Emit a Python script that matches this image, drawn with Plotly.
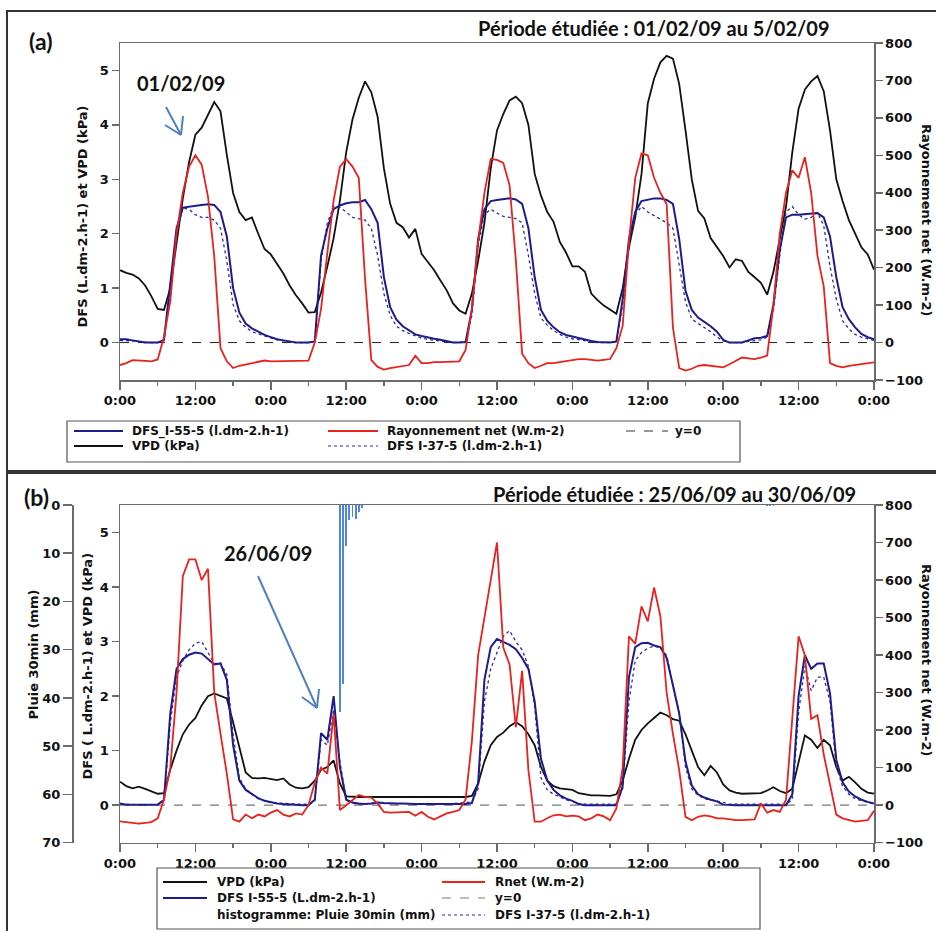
import plotly.graph_objects as go

W, H = 936, 931
def px(x): return x / W
def py(y): return 1 - y / H

# ---------------- DATA ----------------
hours = list(range(0, 121))
tick_hours = [0, 12, 24, 36, 48, 60, 72, 84, 96, 108, 120]
tick_text = ["0:00", "12:00", "0:00", "12:00", "0:00", "12:00", "0:00", "12:00", "0:00", "12:00", "0:00"]
minor_hours = [6, 18, 30, 42, 54, 66, 78, 90, 102, 114]

# Panel (a) 01/02/09 - 05/02/09, hourly
a_vpd = [1.33, 1.28, 1.25, 1.18, 1.05, 0.85, 0.62, 0.6, 1.0, 1.85, 2.65, 3.32,
         3.82, 3.95, 4.2, 4.42, 4.25, 3.45, 2.75, 2.4, 2.25, 2.3, 2.0, 1.72,
         1.62, 1.45, 1.27, 1.05, 0.87, 0.72, 0.55, 0.56, 0.92, 1.4, 1.92, 2.61,
         3.5, 4.1, 4.5, 4.8, 4.6, 4.15, 3.2, 2.55, 2.2, 2.12, 1.93, 2.09,
         1.63, 1.48, 1.33, 1.14, 0.96, 0.72, 0.59, 0.53, 0.9, 1.5, 2.2, 3.2,
         3.9, 4.2, 4.45, 4.52, 4.4, 4.0, 3.1, 2.7, 2.4, 2.22, 1.85, 1.65,
         1.4, 1.4, 1.3, 0.9, 0.78, 0.68, 0.6, 0.53, 1.0, 1.75, 2.3, 3.1,
         4.4, 4.85, 5.15, 5.27, 5.22, 4.75, 3.9, 3.0, 2.42, 2.28, 1.92, 1.75,
         1.59, 1.38, 1.53, 1.5, 1.3, 1.2, 1.1, 0.88, 1.3, 1.9, 2.5, 3.5,
         4.3, 4.65, 4.8, 4.9, 4.62, 3.9, 3.0, 2.6, 2.25, 2.0, 1.75, 1.62,
         1.34]
a_dfs55 = [0.06, 0.06, 0.04, 0.02, 0.0, 0.0, 0.0, 0.05, 1.1, 2.1, 2.48, 2.5,
           2.52, 2.53, 2.54, 2.53, 2.4, 1.95, 1.0, 0.55, 0.35, 0.26, 0.2, 0.14,
           0.1, 0.06, 0.04, 0.02, 0.0, 0.0, 0.0, 0.02, 1.6, 2.1, 2.45, 2.52,
           2.56, 2.58, 2.58, 2.62, 2.45, 2.2, 1.2, 0.65, 0.42, 0.3, 0.22, 0.15,
           0.12, 0.09, 0.07, 0.05, 0.02, 0.0, 0.0, 0.01, 0.6, 1.9, 2.45, 2.6,
           2.62, 2.63, 2.65, 2.63, 2.55, 2.1, 1.2, 0.6, 0.4, 0.28, 0.19, 0.14,
           0.11, 0.09, 0.06, 0.03, 0.01, 0.0, 0.0, 0.02, 0.8, 1.9, 2.4, 2.6,
           2.63, 2.65, 2.65, 2.62, 2.55, 1.9, 0.95, 0.6, 0.46, 0.38, 0.3, 0.2,
           0.05, 0.0, 0.0, 0.0, 0.04, 0.08, 0.09, 0.12, 0.7, 1.7, 2.3, 2.35,
           2.35, 2.36, 2.36, 2.38, 2.3, 1.95, 1.2, 0.65, 0.43, 0.28, 0.16, 0.1,
           0.06]
a_dfs37 = [0.04, 0.04, 0.03, 0.01, 0.0, 0.0, 0.0, 0.03, 0.9, 2.0, 2.47, 2.45,
           2.35, 2.3, 2.3, 2.25, 2.1, 1.5, 0.7, 0.4, 0.28, 0.2, 0.16, 0.12,
           0.08, 0.05, 0.03, 0.01, 0.0, 0.0, 0.0, 0.02, 1.5, 2.2, 2.5, 2.48,
           2.4, 2.3, 2.28, 2.25, 2.1, 1.6, 0.9, 0.5, 0.3, 0.22, 0.17, 0.12,
           0.08, 0.06, 0.04, 0.03, 0.01, 0.0, 0.0, 0.01, 0.5, 1.8, 2.35, 2.45,
           2.38, 2.32, 2.3, 2.28, 2.2, 1.6, 0.9, 0.45, 0.32, 0.22, 0.15, 0.1,
           0.07, 0.05, 0.03, 0.02, 0.0, 0.0, 0.0, 0.01, 0.7, 1.8, 2.35, 2.5,
           2.4, 2.33, 2.27, 2.2, 2.1, 1.4, 0.75, 0.43, 0.35, 0.28, 0.2, 0.1,
           0.03, 0.0, 0.0, 0.0, 0.02, 0.04, 0.05, 0.1, 0.6, 1.6, 2.4, 2.5,
           2.35, 2.27, 2.3, 2.39, 2.15, 1.4, 0.8, 0.4, 0.25, 0.15, 0.1, 0.07,
           0.04]
a_rnet = [-60, -55, -47, -47, -49, -50, -45, 15, 110, 290, 400, 470,
          500, 475, 390, 230, -15, -50, -68, -62, -58, -55, -52, -48,
          -50, -50, -48, -50, -50, -50, -48, 0, 90, 240, 380, 470,
          490, 470, 440, 170, -47, -65, -72, -68, -65, -62, -60, -35,
          -55, -55, -52, -52, -52, -50, -50, -20, 90, 270, 400, 490,
          488, 480, 420, 220, -30, -55, -68, -62, -55, -55, -52, -48,
          -45, -44, -44, -45, -48, -46, -44, -15, 45, 270, 440, 505,
          500, 440, 400, 370, 40, -68, -75, -70, -62, -60, -62, -64,
          -66, -58, -50, -40, -42, -44, -40, -35, 100, 290, 400, 460,
          440, 495, 400, 232, 150, -55, -62, -66, -62, -60, -58, -55,
          -53]

# Panel (b) 25/06/09 - 30/06/09, hourly
b_vpd = [0.43, 0.35, 0.31, 0.34, 0.3, 0.25, 0.21, 0.22, 0.65, 1.0, 1.3, 1.48,
         1.6, 1.83, 2.0, 2.05, 2.0, 1.96, 1.52, 1.05, 0.6, 0.5, 0.49, 0.5,
         0.48, 0.46, 0.49, 0.38, 0.32, 0.31, 0.33, 0.45, 0.65, 0.7, 0.82, 0.4,
         0.16, 0.15, 0.15, 0.15, 0.15, 0.15, 0.15, 0.14, 0.14, 0.14, 0.14, 0.14,
         0.14, 0.14, 0.14, 0.14, 0.14, 0.14, 0.15, 0.15, 0.17, 0.4, 0.8, 1.1,
         1.25, 1.33, 1.45, 1.52, 1.45, 1.3, 1.1, 0.7, 0.45, 0.35, 0.31, 0.3,
         0.28, 0.22, 0.2, 0.18, 0.18, 0.17, 0.17, 0.2, 0.45, 0.85, 1.2, 1.38,
         1.5, 1.6, 1.7, 1.65, 1.58, 1.55, 1.3, 1.0, 0.7, 0.55, 0.72, 0.6,
         0.38, 0.27, 0.23, 0.21, 0.21, 0.21, 0.22, 0.27, 0.33, 0.26, 0.22, 0.3,
         0.8, 1.28, 1.2, 1.05, 1.2, 1.1, 0.7, 0.45, 0.52, 0.42, 0.3, 0.23,
         0.21]
b_dfs55 = [0.03, 0.01, 0.01, 0.01, 0.01, 0.01, 0.01, 0.1, 1.68, 2.5, 2.68, 2.76,
           2.8, 2.78, 2.68, 2.58, 2.6, 2.3, 1.1, 0.45, 0.28, 0.2, 0.13, 0.08,
           0.05, 0.03, 0.02, 0.01, 0.0, 0.0, 0.0, 0.1, 1.32, 1.2, 2.0, 0.7,
           0.1, 0.05, 0.03, 0.02, 0.03, 0.05, 0.04, 0.03, 0.03, 0.03, 0.02, 0.02,
           0.02, 0.02, 0.02, 0.02, 0.02, 0.02, 0.02, 0.02, 0.04, 0.4, 2.3, 2.9,
           3.05, 3.0, 2.94, 2.86, 2.7, 2.5, 1.9, 0.85, 0.45, 0.28, 0.18, 0.12,
           0.08, 0.02, 0.0, 0.0, 0.0, 0.0, 0.0, 0.0, 0.35, 2.35, 2.9, 2.97,
           2.98, 2.93, 2.9, 2.7, 2.2, 1.68, 0.8, 0.36, 0.2, 0.14, 0.1, 0.07,
           0.01, 0.0, 0.0, 0.0, 0.0, 0.0, 0.0, 0.0, 0.0, 0.0, 0.0, 0.2,
           2.0, 2.75, 2.5, 2.6, 2.6, 2.05, 0.83, 0.42, 0.25, 0.16, 0.1, 0.06,
           0.03]
b_dfs37 = [0.02, 0.01, 0.01, 0.01, 0.01, 0.01, 0.01, 0.08, 1.5, 2.35, 2.65, 2.85,
           2.97, 3.0, 2.8, 2.6, 2.6, 2.4, 1.3, 0.5, 0.3, 0.2, 0.12, 0.08,
           0.05, 0.04, 0.03, 0.02, 0.02, 0.02, 0.02, 0.08, 1.2, 1.1, 1.75, 0.8,
           0.1, 0.04, 0.02, 0.02, 0.03, 0.04, 0.03, 0.03, 0.03, 0.02, 0.02, 0.02,
           0.02, 0.02, 0.02, 0.02, 0.02, 0.03, 0.04, 0.05, 0.06, 0.3, 1.9, 2.5,
           2.8, 3.1, 3.2, 3.0, 2.85, 2.55, 1.8, 0.5, 0.28, 0.2, 0.15, 0.1,
           0.07, 0.03, 0.02, 0.02, 0.02, 0.02, 0.02, 0.02, 0.3, 1.9, 2.65, 2.8,
           2.88, 2.92, 2.88, 2.75, 2.2, 1.7, 0.7, 0.3, 0.18, 0.12, 0.1, 0.08,
           0.05, 0.02, 0.02, 0.02, 0.02, 0.02, 0.02, 0.02, 0.02, 0.02, 0.02, 0.1,
           1.7, 2.55, 2.1, 2.35, 2.35, 1.9, 0.7, 0.35, 0.2, 0.12, 0.08, 0.05,
           0.03]
b_rnet = [-43, -45, -47, -49, -47, -45, -35, 15, 100, 300, 610, 655,
          655, 600, 630, 300, 190, 84, -38, -44, -25, -35, -25, -30,
          -20, -13, -25, -30, -22, -25, 0, 60, 100, 84, 244, -13,
          0, 13, 27, 22, 20, 4, -18, -20, -20, -20, -18, -28,
          -18, -31, -38, -30, -22, -18, -13, 15, 170, 400, 505, 600,
          700, 420, 375, 208, 358, 93, -44, -44, -35, -27, -25, -30,
          -28, -30, -40, -35, -25, -30, -40, -9, 100, 450, 430, 530,
          490, 580, 504, 300, 190, 93, -31, -40, -31, -27, -30, -35,
          -35, -38, -40, -40, -40, -38, 5, -20, -13, -18, 15, 230,
          450, 400, 230, 240, 135, 55, -25, -35, -40, -44, -42, -40,
          -15]
rain_hours = [35.0, 35.5, 36.0, 36.5, 37.0, 37.5, 38.0, 38.5, 103.0, 103.5, 104.0]
rain_mm = [43, 37, 8.6, 3.1, 2.4, 2.9, 1.4, 0.6, 0.2, 0.3, 0.2]

zero_x = [0, 120]
zero_y = [0, 0]

# ---------------- STYLE ----------------
C_VPD = "#111111"
C_D55 = "#1c1c8a"
C_D37 = "#2e2e9e"
C_RN = "#e8221c"
C_RAIN = "#4f86e0"
C_ARROW = "#4f81bd"
AX = "#6b6b6b"
TICKF = dict(family="DejaVu Sans", size=13, color="#111111", weight="bold")
LEGF = dict(family="DejaVu Sans", size=12, color="#111111", weight="bold")
TITF = dict(family="Lato", size=20, color="#111111", weight="bold")

fig = go.Figure()

# panel a traces
fig.add_trace(go.Scatter(x=zero_x, y=zero_y, mode="lines", line=dict(color="#222", width=1, dash="dash"),
                         xaxis="x", yaxis="y", showlegend=False, hoverinfo="skip"))
fig.add_trace(go.Scatter(x=hours, y=a_vpd, mode="lines", line=dict(color=C_VPD, width=1.8),
                         xaxis="x", yaxis="y", name="VPD (kPa)", showlegend=False))
fig.add_trace(go.Scatter(x=hours, y=a_dfs37, mode="lines", line=dict(color=C_D37, width=1.3, dash="dot"),
                         xaxis="x", yaxis="y", name="DFS I-37-5", showlegend=False))
fig.add_trace(go.Scatter(x=hours, y=a_dfs55, mode="lines", line=dict(color=C_D55, width=2),
                         xaxis="x", yaxis="y", name="DFS_I-55-5", showlegend=False))
fig.add_trace(go.Scatter(x=hours, y=a_rnet, mode="lines", line=dict(color=C_RN, width=1.8),
                         xaxis="x", yaxis="y2", name="Rayonnement net", showlegend=False))

# panel b traces
fig.add_trace(go.Scatter(x=zero_x, y=zero_y, mode="lines", line=dict(color="#777", width=1.2, dash="dash"),
                         xaxis="x2", yaxis="y3", showlegend=False, hoverinfo="skip"))
fig.add_trace(go.Scatter(x=hours, y=b_vpd, mode="lines", line=dict(color=C_VPD, width=1.8),
                         xaxis="x2", yaxis="y3", name="VPD (kPa)", showlegend=False))
fig.add_trace(go.Scatter(x=hours, y=b_dfs37, mode="lines", line=dict(color=C_D37, width=1.3, dash="dot"),
                         xaxis="x2", yaxis="y3", name="DFS I-37-5", showlegend=False))
fig.add_trace(go.Scatter(x=hours, y=b_dfs55, mode="lines", line=dict(color=C_D55, width=2),
                         xaxis="x2", yaxis="y3", name="DFS I-55-5", showlegend=False))
fig.add_trace(go.Scatter(x=hours, y=b_rnet, mode="lines", line=dict(color=C_RN, width=1.8),
                         xaxis="x2", yaxis="y4", name="Rnet", showlegend=False))
fig.add_trace(go.Bar(x=rain_hours, y=rain_mm, width=0.3, marker=dict(color=C_RAIN, line=dict(width=0)),
                     xaxis="x2", yaxis="y5", name="Pluie", showlegend=False))

# ---------------- AXES ----------------
XD = [px(120), px(874)]
A_DOM = [py(380), py(43)]
B_DOM = [py(842.7), py(505)]
LRANGE = [-100 / 145.3, 800 / 145.3]
RRANGE = [-100, 800]

def xax(anchor):
    return dict(domain=XD, anchor=anchor, range=[0, 120], tickmode="array", tickvals=tick_hours,
                ticktext=tick_text, ticks="outside", ticklen=8, tickwidth=1.5, tickcolor=AX,
                minor=dict(tickmode="array", tickvals=minor_hours, ticks="outside", ticklen=4,
                           tickwidth=1.5, tickcolor=AX),
                showline=True, linecolor=AX, linewidth=1.5, mirror=True, showgrid=False,
                zeroline=False, tickfont=TICKF, automargin=False)

def yleft(dom, anchor):
    return dict(domain=dom, anchor=anchor, range=LRANGE, tickmode="array", tickvals=[0, 1, 2, 3, 4, 5],
                ticks="outside", ticklen=7, tickwidth=1.5, tickcolor=AX, showline=True, linecolor=AX,
                linewidth=1.5, showgrid=False, zeroline=False, tickfont=TICKF, automargin=False)

def yright(over, anchor):
    return dict(overlaying=over, anchor=anchor, side="right", range=RRANGE, tickmode="array",
                tickvals=[-100, 0, 100, 200, 300, 400, 500, 600, 700, 800], ticks="outside", ticklen=7,
                tickwidth=1.5, tickcolor=AX, showline=True, linecolor=AX, linewidth=1.5,
                showgrid=False, zeroline=False, tickfont=TICKF, automargin=False)

fig.update_layout(
    width=W, height=H, margin=dict(l=0, r=0, t=0, b=0, autoexpand=False),
    paper_bgcolor="white", plot_bgcolor="white", showlegend=False, bargap=0,
    xaxis=xax("y"), yaxis=yleft(A_DOM, "x"), yaxis2=yright("y", "x"),
    xaxis2=xax("y3"), yaxis3=yleft(B_DOM, "x2"), yaxis4=yright("y3", "x2"),
    yaxis5=dict(overlaying="y3", anchor="free", position=px(72), side="left", range=[70, 0],
                tickmode="array", tickvals=[0, 10, 20, 30, 40, 50, 60, 70], ticks="outside",
                ticklen=9, tickwidth=1.5, tickcolor=AX, showline=True, linecolor=AX, linewidth=1.5,
                showgrid=False, zeroline=False, tickfont=TICKF, automargin=False),
)

ann = []
shapes = []

def text(x, y, s, font, xanchor="left", yanchor="middle", angle=0):
    ann.append(dict(x=px(x), y=py(y), xref="paper", yref="paper", text=s, showarrow=False,
                    xanchor=xanchor, yanchor=yanchor, font=font, textangle=angle))

def seg(x0, y0, x1, y1, color, width=1.5, dash="solid"):
    shapes.append(dict(type="line", xref="paper", yref="paper", x0=px(x0), y0=py(y0), x1=px(x1), y1=py(y1),
                       line=dict(color=color, width=width, dash=dash)))

def rect(x0, y0, x1, y1, color, width=1.5):
    shapes.append(dict(type="rect", xref="paper", yref="paper", x0=px(x0), y0=py(y0), x1=px(x1), y1=py(y1),
                       line=dict(color=color, width=width), fillcolor="rgba(0,0,0,0)"))

# panel frames
rect(7, 11, 940, 471, "#333333", 2)
rect(7, 473, 940, 940, "#333333", 2)

# titles / labels
text(27, 41, "(a)", dict(family="Lato", size=23, color="#111", weight="bold"))
text(22, 497, "(b)", dict(family="Lato", size=23, color="#111", weight="bold"))
text(476, 28, "Période étudiée : 01/02/09 au 5/02/09", TITF)
text(491, 494, "Période étudiée : 25/06/09 au 30/06/09", TITF)
text(135, 83, "01/02/09", TITF)
text(222, 553, "26/06/09", TITF)

AXT = dict(family="DejaVu Sans", size=13, color="#111", weight="bold")
text(82.5, 217, "DFS (L.dm-2.h-1) et VPD (kPa)", AXT, xanchor="center", angle=-90)
text(927, 220, "Rayonnement net (W.m-2)", AXT, xanchor="center", angle=90)
text(86.5, 666, "DFS ( L.dm-2.h-1) et VPD (kPa)", AXT, xanchor="center", angle=-90)
text(927, 660, "Rayonnement net (W.m-2)", AXT, xanchor="center", angle=90)
text(32.5, 655, "Pluie 30min (mm)", AXT, xanchor="center", angle=-90)

# arrows
seg(166, 107, 181, 135, C_ARROW, 2)
seg(181, 135, 165, 125, C_ARROW, 2)
seg(181, 135, 183, 116, C_ARROW, 2)
seg(258, 576, 317, 708, C_ARROW, 2)
seg(317, 708, 302, 697, C_ARROW, 2)
seg(317, 708, 319, 689, C_ARROW, 2)

# legend (a)
rect(67, 421, 740, 462, "#555555", 1.2)
seg(74, 431, 123, 431, C_D55, 2)
text(130, 431, "DFS_I-55-5 (l.dm-2.h-1)", LEGF)
seg(328, 431, 378, 431, C_RN, 2)
text(385, 431, "Rayonnement net (W.m-2)", LEGF)
seg(626, 431, 668, 431, "#333", 1, "dash")
text(673, 431, "y=0", LEGF)
seg(74, 446, 123, 446, C_VPD, 2)
text(130, 446, "VPD (kPa)", LEGF)
seg(328, 446, 378, 446, C_D37, 1.2, "dot")
text(385, 446, "DFS I-37-5 (l.dm-2.h-1)", LEGF)

# legend (b)
rect(157, 868, 760, 929, "#555555", 1.2)
seg(163, 882, 207, 882, C_VPD, 2)
text(215, 882, "VPD (kPa)", LEGF)
seg(442, 882, 485, 882, C_RN, 2)
text(493, 882, "Rnet (W.m-2)", LEGF)
seg(163, 898, 207, 898, C_D55, 2)
text(215, 898, "DFS I-55-5 (L.dm-2.h-1)", LEGF)
seg(442, 898, 485, 898, "#777", 1, "dash")
text(493, 898, "y=0", LEGF)
text(215, 915, "histogramme: Pluie 30min (mm)", LEGF)
seg(442, 915, 485, 915, C_D37, 1.2, "dot")
text(493, 915, "DFS I-37-5 (l.dm-2.h-1)", LEGF)

fig.update_layout(annotations=ann, shapes=shapes)
fig.write_html("out.html", config={"displayModeBar": False, "staticPlot": True},
               post_script="document.body.style.margin='0px';document.body.style.overflow='hidden';")
